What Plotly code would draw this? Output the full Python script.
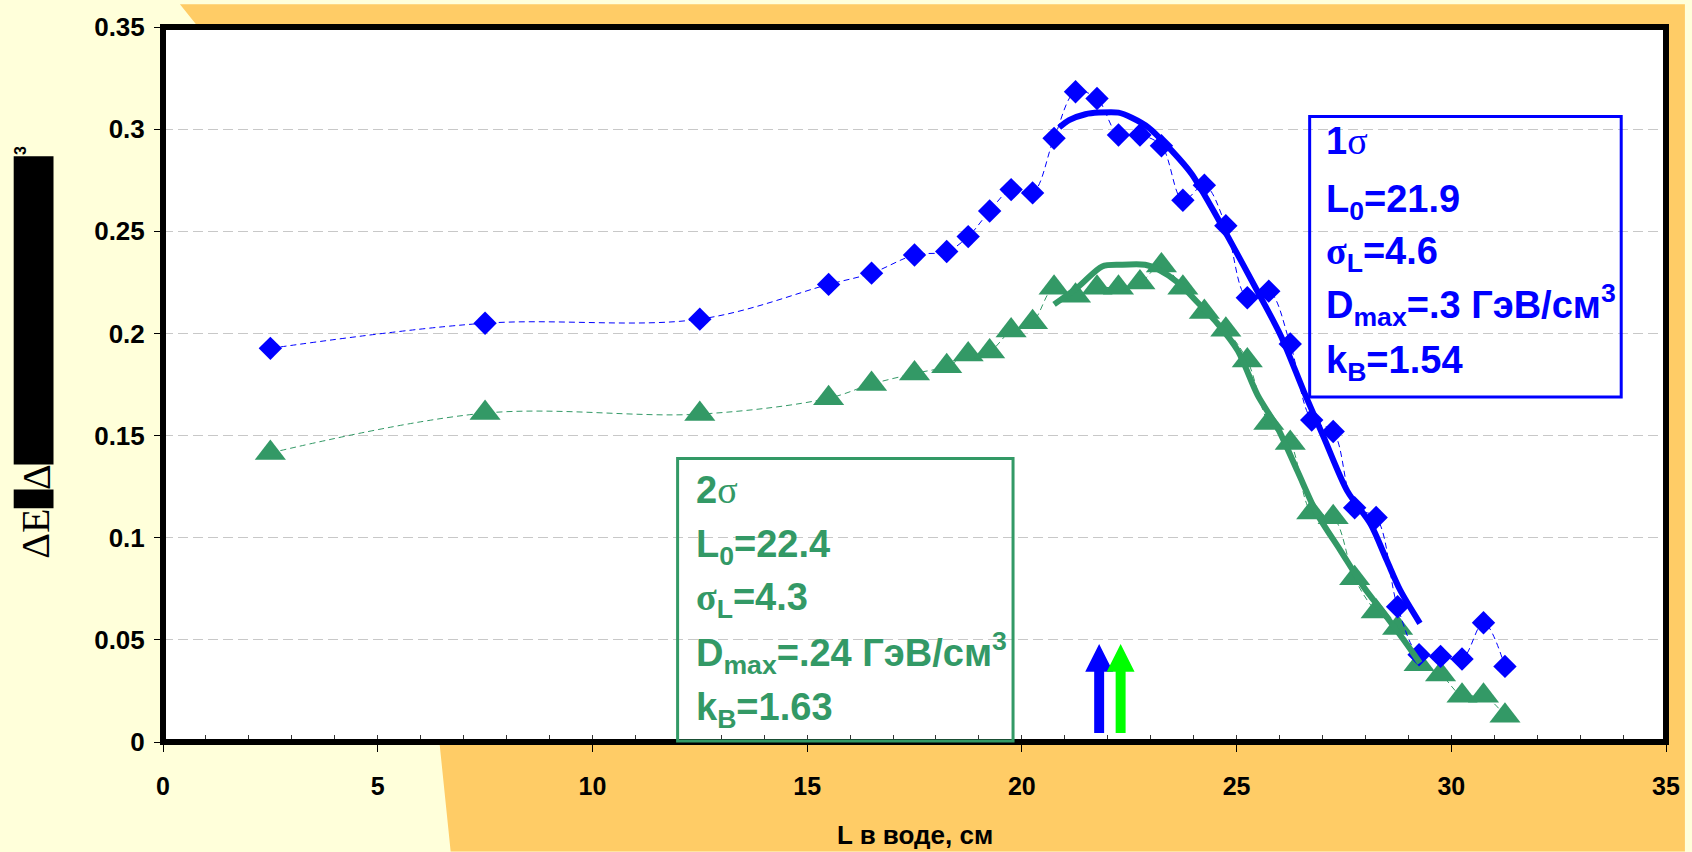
import plotly.graph_objects as go

# ---------------- data ----------------
L_cm = [2.5, 7.5, 12.5, 15.5, 16.5, 17.5, 18.25, 18.75, 19.25, 19.75, 20.25, 20.75,
        21.25, 21.75, 22.25, 22.75, 23.25, 23.75, 24.25, 24.75, 25.25, 25.75, 26.25,
        26.75, 27.25, 27.75, 28.25, 28.75, 29.25, 29.75, 30.25, 30.75, 31.25]

dose_1sigma = [0.1927, 0.205, 0.207, 0.224, 0.2295, 0.2384, 0.2401, 0.2474, 0.2599,
               0.2704, 0.2688, 0.2955, 0.3183, 0.315, 0.2971, 0.2971, 0.2919, 0.2652,
               0.2725, 0.2527, 0.2175, 0.2207, 0.1948, 0.1576, 0.152, 0.1147, 0.1099,
               0.0662, 0.0427, 0.0419, 0.0406, 0.0584, 0.037]

dose_2sigma = [0.1415, 0.161, 0.1605, 0.1683, 0.1752, 0.1804, 0.1839, 0.1897, 0.1912,
               0.2014, 0.2055, 0.2224, 0.2184, 0.2224, 0.2224, 0.2249, 0.2333, 0.2224,
               0.2105, 0.2018, 0.1868, 0.1561, 0.1464, 0.1124, 0.11, 0.0801, 0.0639,
               0.0558, 0.038, 0.0331, 0.0226, 0.0226, 0.0129]

fit1_x = [20.87, 21.1, 21.48, 21.79, 22.25, 22.56, 22.95, 23.49, 23.95, 24.41, 24.88,
          25.42, 26.03, 26.57, 27.04, 27.58, 28.12, 28.5, 28.81, 29.27]
fit1_y = [0.3008, 0.3044, 0.3073, 0.3081, 0.3081, 0.3056, 0.3008, 0.2895, 0.2782,
          0.262, 0.2442, 0.2232, 0.1989, 0.1714, 0.1487, 0.1228, 0.1067, 0.0888,
          0.0743, 0.0581]

fit2_x = [20.75, 21.33, 21.87, 22.3, 22.87, 23.18, 23.64, 24.1, 24.57, 25.03, 25.49,
          25.96, 26.42, 26.88, 27.42, 27.96, 28.43, 28.89, 29.27]
fit2_y = [0.2142, 0.2231, 0.2328, 0.2336, 0.2336, 0.2312, 0.2248, 0.215, 0.2045,
          0.1915, 0.1698, 0.1536, 0.1325, 0.1115, 0.0937, 0.0759, 0.063, 0.05, 0.0387]

arrow_x = [21.8, 22.3]
arrow_base = [0.0044, 0.0044]
arrow_tip = [0.048, 0.048]
arrow_colors = ["#0000FF", "#00FF00"]

box1_lines = ["<b>1</b><span style=\"font-family:'Liberation Serif',Times\">σ</span>",
              "<b>L<sub>0</sub>=21.9</b>",
              "<b><span style=\"font-family:'Liberation Serif',Times\">σ</span><sub>L</sub>=4.6</b>",
              "<b>D<sub>max</sub>=.3 ГэВ/см<sup>3</sup></b>",
              "<b>k<sub>B</sub>=1.54</b>"]
box2_lines = ["<b>2</b><span style=\"font-family:'Liberation Serif',Times\">σ</span>",
              "<b>L<sub>0</sub>=22.4</b>",
              "<b><span style=\"font-family:'Liberation Serif',Times\">σ</span><sub>L</sub>=4.3</b>",
              "<b>D<sub>max</sub>=.24 ГэВ/см<sup>3</sup></b>",
              "<b>k<sub>B</sub>=1.63</b>"]

x_range = [0, 35]
y_range = [0, 0.35]

# ---------------- layout geometry (pixels) ----------------
W, H = 1692, 852
PL, PR, PT, PB = 163, 1673, 23, 742


def px(x):
    return (x - PL) / (PR - PL)


def py(y):
    return (PB - y) / (PB - PT)


xscale = (PR - PL) / (x_range[1] - x_range[0])
yscale = (PB - PT) / (y_range[1] - y_range[0])

BLUE = "#0000FF"
GREEN = "#339966"
FONT = "Arial, 'Liberation Sans', sans-serif"

fig = go.Figure()

# thin dashed smoothed lines with markers
fig.add_trace(go.Scatter(x=L_cm, y=dose_2sigma, mode="lines+markers",
                         line=dict(color=GREEN, width=1, dash="6px,4px", shape="spline", smoothing=1),
                         marker=dict(symbol="triangle-up", size=27, color=GREEN, line=dict(width=0)),
                         hoverinfo="skip"))
fig.add_trace(go.Scatter(x=L_cm, y=dose_1sigma, mode="lines+markers",
                         line=dict(color=BLUE, width=1, dash="6px,4px", shape="spline", smoothing=1),
                         marker=dict(symbol="diamond", size=18, color=BLUE, line=dict(width=0)),
                         hoverinfo="skip"))

# thick fit curves
fig.add_trace(go.Scatter(x=fit2_x, y=fit2_y, mode="lines",
                         line=dict(color=GREEN, width=6, shape="spline", smoothing=0.8),
                         hoverinfo="skip"))
fig.add_trace(go.Scatter(x=fit1_x, y=fit1_y, mode="lines",
                         line=dict(color=BLUE, width=6, shape="spline", smoothing=0.8),
                         hoverinfo="skip"))

# arrows (polygons built from data positions)
shaft_hw = 5 / xscale
head_hw = 14 / xscale
head_h = 28 / yscale
for xc, yb, yt, col in zip(arrow_x, arrow_base, arrow_tip, arrow_colors):
    ax = [xc - shaft_hw, xc + shaft_hw, xc + shaft_hw, xc + head_hw, xc,
          xc - head_hw, xc - shaft_hw, xc - shaft_hw]
    ay = [yb, yb, yt - head_h, yt - head_h, yt, yt - head_h, yt - head_h, yb]
    fig.add_trace(go.Scatter(x=ax, y=ay, mode="lines", fill="toself", fillcolor=col,
                             line=dict(width=0, color=col), hoverinfo="skip"))

shapes = []
# orange background region
pts = [(180, 0), (200, 25), (441, 745), (452, H), (W, H), (W, 0)]
path = "M " + " L ".join(f"{px(a):.5f},{py(b):.5f}" for a, b in pts) + " Z"
shapes.append(dict(type="path", xref="paper", yref="paper", path=path,
                   fillcolor="#FFCC66", line=dict(width=0), layer="below"))
# white plot area
shapes.append(dict(type="rect", xref="paper", yref="paper", x0=0, x1=1, y0=0, y1=1,
                   fillcolor="white", line=dict(width=0), layer="below"))
# plot border
shapes.append(dict(type="rect", xref="paper", yref="paper", x0=0, x1=1, y0=0, y1=1,
                   line=dict(color="black", width=6), layer="above"))
# text boxes
shapes.append(dict(type="rect", xref="paper", yref="paper", x0=px(1315), x1=px(1628),
                   y0=py(395), y1=py(113), line=dict(color=BLUE, width=3), layer="above"))
shapes.append(dict(type="rect", xref="paper", yref="paper", x0=px(680), x1=px(1017),
                   y0=py(741), y1=py(457), line=dict(color=GREEN, width=3), layer="above"))
# redaction blocks on y title
shapes.append(dict(type="rect", xref="paper", yref="paper", x0=px(13), x1=px(53),
                   y0=py(463), y1=py(153), fillcolor="black", line=dict(width=0), layer="above"))
shapes.append(dict(type="rect", xref="paper", yref="paper", x0=px(13), x1=px(53),
                   y0=py(507), y1=py(488), fillcolor="black", line=dict(width=0), layer="above"))

annotations = []
box1_y = [138, 198.5, 251, 302.5, 360.5]
box2_y = [488.5, 545.5, 599, 652.8, 709.6]
for txt, yy in zip(box1_lines, box1_y):
    annotations.append(dict(text=txt, xref="paper", yref="paper", x=px(1329), y=py(yy),
                            xanchor="left", yanchor="middle", showarrow=False,
                            font=dict(family=FONT, size=38, color=BLUE)))
for txt, yy in zip(box2_lines, box2_y):
    annotations.append(dict(text=txt, xref="paper", yref="paper", x=px(696), y=py(yy),
                            xanchor="left", yanchor="middle", showarrow=False,
                            font=dict(family=FONT, size=38, color=GREEN)))

# x axis title
annotations.append(dict(text="<b>L в воде, см</b>", xref="paper", yref="paper",
                        x=0.5, y=py(836), xanchor="center", yanchor="middle",
                        showarrow=False, font=dict(family=FONT, size=26, color="black")))
# y axis title pieces
annotations.append(dict(text="ΔE", xref="paper", yref="paper", x=px(35), y=py(533),
                        xanchor="center", yanchor="middle", textangle=-90, showarrow=False,
                        font=dict(family="'Liberation Serif', Times, serif", size=40, color="black")))
annotations.append(dict(text="Δ", xref="paper", yref="paper", x=px(36), y=py(476),
                        xanchor="center", yanchor="middle", textangle=-90, showarrow=False,
                        font=dict(family="'Liberation Serif', Times, serif", size=40, color="black")))
annotations.append(dict(text="<b>3</b>", xref="paper", yref="paper", x=px(20), y=py(147),
                        xanchor="center", yanchor="middle", textangle=-90, showarrow=False,
                        font=dict(family=FONT, size=16, color="black")))

fig.update_layout(
    width=W, height=H,
    margin=dict(l=PL, r=W - PR, t=PT, b=H - PB, pad=0),
    paper_bgcolor="#FFFFDA",
    plot_bgcolor="white",
    showlegend=False,
    shapes=shapes,
    annotations=annotations,
)
fig.update_xaxes(range=x_range, dtick=5, tick0=0, showgrid=False, zeroline=False,
                 showline=False, ticks="outside", ticklen=9, tickwidth=1, tickcolor="black",
                 ticklabelstandoff=13,
                 minor=dict(dtick=1, ticks="inside", ticklen=7, tickwidth=1, tickcolor="#333333",
                            showgrid=False),
                 tickfont=dict(family=FONT, size=25, color="black", weight="bold"))
fig.update_yaxes(range=y_range, dtick=0.05, tick0=0, showgrid=True, gridcolor="#C8C8C8",
                 gridwidth=1, griddash="10px,5px", zeroline=False, showline=False,
                 ticks="outside", ticklen=8, tickwidth=1, tickcolor="black",
                 ticklabelstandoff=4,
                 tickfont=dict(family=FONT, size=26, color="black", weight="bold"))

fig.write_html("out.html")
